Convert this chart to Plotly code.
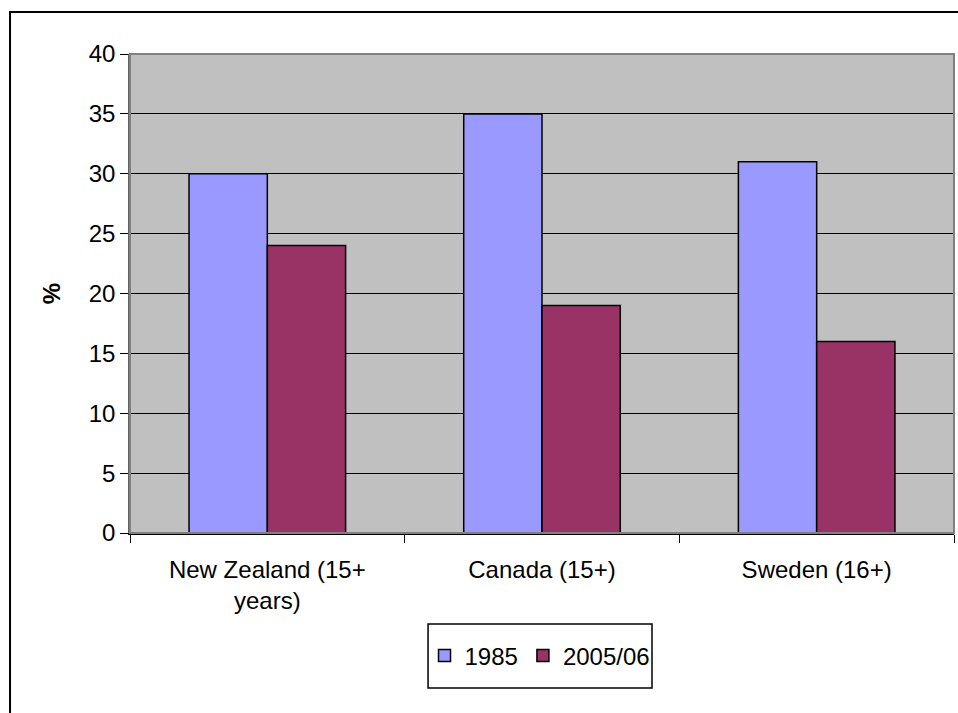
import plotly.graph_objects as go

categories = ["New Zealand (15+<br>years)", "Canada (15+)", "Sweden (16+)"]
series_names = ["1985", "2005/06"]
values_1985 = [30, 35, 31]
values_2005 = [24, 19, 16]
y_ticks = [0, 5, 10, 15, 20, 25, 30, 35, 40]

colors = ["#9999FF", "#993366"]
font_family = "Liberation Sans, Arial, sans-serif"

fig = go.Figure()
for name, vals, col in zip(series_names, [values_1985, values_2005], colors):
    fig.add_trace(go.Bar(
        x=categories, y=vals, name=name,
        marker=dict(color=col, line=dict(color="black", width=1.5)),
    ))

fig.update_layout(
    width=958, height=713,
    margin=dict(l=130, r=4, t=54, b=180),
    paper_bgcolor="white",
    plot_bgcolor="#C0C0C0",
    barmode="group",
    bargap=0.43,
    bargroupgap=0,
    font=dict(family=font_family, size=24, color="black"),
    showlegend=True,
    legend=dict(
        orientation="h",
        x=0.4976, xanchor="center",
        y=-0.2568, yanchor="middle",
        borderwidth=0,
        bgcolor="rgba(0,0,0,0)",
        font=dict(size=24),
        itemwidth=30,
        tracegroupgap=0,
    ),
    yaxis=dict(
        range=[0, 40],
        tickvals=y_ticks,
        ticks="outside", ticklen=8, tickcolor="black",
        showgrid=True, gridcolor="black", gridwidth=1,
        showline=True, linecolor="#606060", linewidth=1.5,
        zeroline=False,
        title=dict(text="<b>%</b>", font=dict(size=24), standoff=21),
        tickfont=dict(size=24),
    ),
    xaxis=dict(
        ticks="outside", ticklen=8, tickcolor="black",
        tickson="boundaries",
        ticklabelstandoff=14,
        showline=True, linecolor="black", linewidth=1.5,
        tickfont=dict(size=24),
        mirror=False,
    ),
    shapes=[
        # grey frame of the plotting area
        dict(type="rect", xref="paper", yref="paper", x0=0, x1=1, y0=0, y1=1,
             line=dict(color="#808080", width=2), fillcolor="rgba(0,0,0,0)", layer="above"),
        # outer chart border
        dict(type="rect", xref="paper", yref="paper",
             x0=-0.1456, x1=1.2, y0=-0.6, y1=1.0877,
             line=dict(color="black", width=2), fillcolor="rgba(0,0,0,0)"),
        # legend frame
        dict(type="rect", xref="paper", yref="paper",
             x0=0.3617, x1=0.6335, y0=-0.3236, y1=-0.19,
             line=dict(color="black", width=1.5), fillcolor="white", layer="below"),
    ],
)

fig.write_html("out.html")
